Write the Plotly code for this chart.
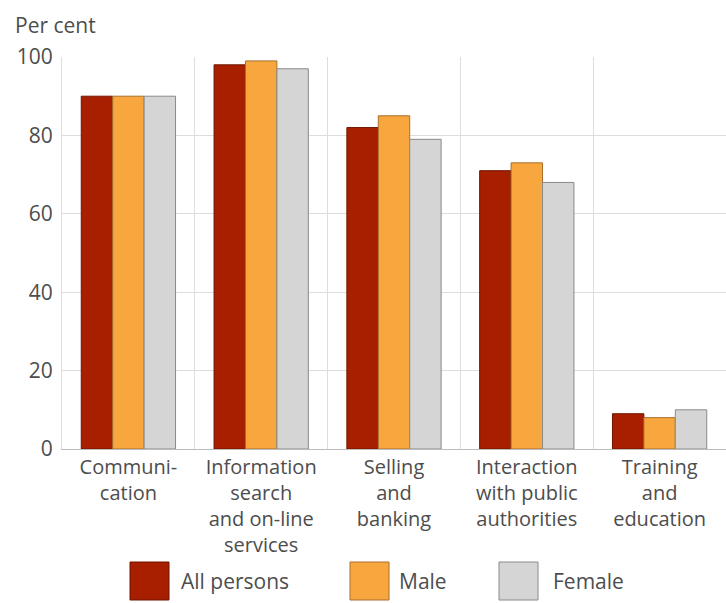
import plotly.graph_objects as go

categories = ["Communi-<br>cation", "Information<br>search<br>and on-line<br>services",
              "Selling<br>and<br>banking", "Interaction<br>with public<br>authorities",
              "Training<br>and<br>education"]
series_names = ["All persons", "Male", "Female"]
all_persons = [90, 98, 82, 71, 9]
male = [90, 99, 85, 73, 8]
female = [90, 97, 79, 68, 10]
colors = ["#A81F00", "#F8A63E", "#D5D5D5"]
line_colors = ["#6E1500", "#A8702A", "#8A8A8A"]

FONT = "Open Sans"
TXT = "#4D4D4D"
FS = 21

fig = go.Figure()
for name, vals, c, lc in zip(series_names, [all_persons, male, female], colors, line_colors):
    fig.add_trace(go.Bar(x=categories, y=vals, name=name, marker=dict(color=c, line=dict(color=lc, width=1)),
                         showlegend=False))

L, R, T, B = 62, 0, 57, 154
W, H = 726, 603
pw, ph = W - L - R, H - T - B

def px_x(p):
    return (p - L) / pw

def px_y(p):
    return (H - B - p) / ph

shapes = []
annotations = []
box_lefts = [130, 350, 499]
text_lefts = [181, 399, 553]
for name, c, lc, bx, tx in zip(series_names, colors, line_colors, box_lefts, text_lefts):
    shapes.append(dict(type="rect", xref="paper", yref="paper",
                       x0=px_x(bx), x1=px_x(bx + 39), y0=px_y(562), y1=px_y(600),
                       fillcolor=c, line=dict(color=lc, width=1)))
    annotations.append(dict(text=name, xref="paper", yref="paper", x=px_x(tx - 2), y=px_y(581),
                            xanchor="left", yanchor="middle", showarrow=False,
                            font=dict(family=FONT, size=FS, color=TXT)))
annotations.append(dict(text="Per cent", xref="paper", yref="paper", x=px_x(13), y=px_y(25),
                        xanchor="left", yanchor="middle", showarrow=False,
                        font=dict(family=FONT, size=FS, color=TXT)))

fig.update_layout(
    width=W, height=H,
    margin=dict(l=L, r=R, t=T, b=B),
    paper_bgcolor="white", plot_bgcolor="white",
    barmode="group", bargap=0.29, bargroupgap=0,
    font=dict(family=FONT, size=20, color=TXT),
    shapes=shapes, annotations=annotations,
    xaxis=dict(tickson="boundaries", showgrid=True, gridcolor="#DDDDDD", gridwidth=1,
               showline=True, linecolor="#BBBBBB", linewidth=1, ticks="",
               tickfont=dict(family=FONT, size=20, color=TXT)),
    yaxis=dict(range=[0, 100], dtick=20, showgrid=True, gridcolor="#DDDDDD", gridwidth=1,
               showline=True, linecolor="#DDDDDD", zeroline=False, ticks="",
               ticklabelstandoff=4,
               tickfont=dict(family=FONT, size=FS, color=TXT)),
)
fig.write_html("out.html")
